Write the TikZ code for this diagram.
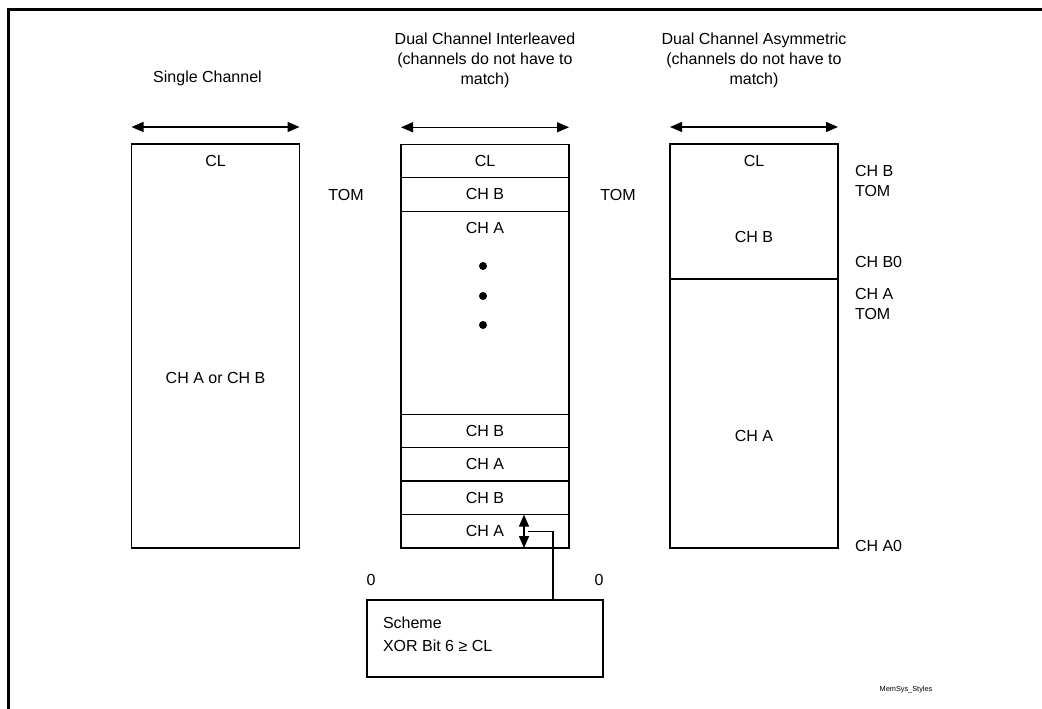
\documentclass[tikz,border=0pt]{standalone}
\usepackage{fontspec}
\setmainfont{Liberation Sans}
\usetikzlibrary{arrows.meta, positioning, calc}

\begin{document}
\begin{tikzpicture}[x=0.75pt, y=-0.75pt,
  every node/.style={font=\fontsize{12}{15}\selectfont, inner sep=0pt, outer sep=0pt},
  bank/.style={draw, line width=1pt, minimum width=126pt},
  slot/.style={bank, minimum height=25.1pt},
  span/.style={{Triangle[length=9pt,width=7.5pt]}-{Triangle[length=9pt,width=7.5pt]}, line width=1pt},
  link/.style={line width=1pt},
  side/.style={anchor=west, align=left},
  dot/.style={circle, fill, minimum size=6pt}
]
\useasboundingbox (0,0) rectangle (1042,709);
\draw[line width=2pt] (8.5,709) -- (8.5,9.5) -- (1042,9.5);

% titles
\node[align=center] (t1) at (207.5,78) {Single Channel};
\node[align=center] (t2) at (485,60) {Dual Channel Interleaved\\(channels do not have to\\match)};
\node[align=center] (t3) at (754,60) {Dual Channel Asymmetric\\(channels do not have to\\match)};

% single channel
\node[bank, minimum height=303pt] (single) at (215.5,346) {};
\node (s1) at (215.5,161) {CL};
\node (s2) at (215.5,378) {CH A or CH B};
\draw[span] ([yshift=12.75pt]single.north west) -- ([yshift=12.75pt]single.north east);

% interleaved
\node[slot] (cl) at (485,161) {CL};
\node[slot, below=0pt of cl] (b1) {CH B};
\node[bank, minimum height=152.25pt, below=0pt of b1] (pool) {};
\node[slot, below=0pt of pool] (b2) {CH B};
\node[slot, below=0pt of b2] (a2) {CH A};
\node[slot, below=0pt of a2] (b3) {CH B};
\node[slot, below=0pt of b3] (a3) {CH A};
\node (a1) at (485,228) {CH A};
\foreach \y [count=\i] in {266,296,325}
  \node[dot] (dot\i) at (483,\y) {};
\draw[span] ([yshift=12.75pt]cl.north west) -- ([yshift=12.75pt]cl.north east);
\draw[span] ($(a3.north)+(39,0)$) -- ($(a3.south)+(39,0)$);

\node (tom1) at (346,195) {TOM};
\node (tom2) at (618,195) {TOM};

% asymmetric
\node[bank, minimum height=101.25pt] (chb) at (754,211.5) {};
\node[bank, minimum height=201.75pt, below=0pt of chb] (cha) {};
\node (c1) at (754,161) {CL};
\node (c2) at (754,237) {CH B};
\node (c3) at (754,436) {CH A};
\draw[span] ([yshift=12.75pt]chb.north west) -- ([yshift=12.75pt]chb.north east);

\node[side] (r1) at (855,180.5) {CH B\\TOM};
\node[side] (r2) at (855,262) {CH B0};
\node[side] (r3) at (855,304) {CH A\\TOM};
\node[side] (r4) at (855,546) {CH A0};

% scheme
\node (z1) at (371,580) {0};
\node (z2) at (599,580) {0};
\node[bank, minimum width=177pt, minimum height=57.75pt] (scheme) at (485,638.5) {};
\node[side, font=\fontsize{12}{17}\selectfont] (rule) at (383,634) {Scheme\\XOR Bit 6 ≥ CL};
\coordinate (tap) at ($(a3)+(43,0)$);
\draw[link] (tap) -| ($(scheme.north)+(68,0)$);

\node[font=\fontsize{5.5}{6}\selectfont] (tag) at (906,690) {MemSys\_Styles};
\end{tikzpicture}
\end{document}
